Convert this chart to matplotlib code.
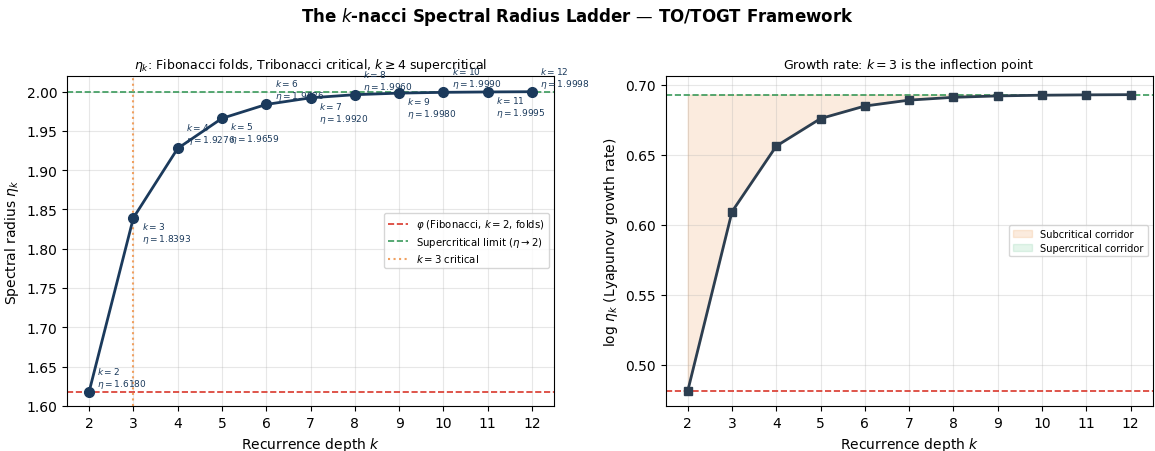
import numpy as np
from matplotlib import pyplot as plt

k = [2, 3, 4, 5, 6, 7, 8, 9, 10, 11, 12]
eta = [1.6180, 1.8393, 1.9276, 1.9659, 1.9836, 1.9920, 1.9960, 1.9980, 1.9990, 1.9995, 1.9998]
phi = 1.6180
limit = 2.0

k = np.array(k)
eta = np.array(eta)
log_eta = np.log(eta)
ln2 = np.log(limit)

navy = '#1b3a5c'
slate = '#2c3e50'
red = '#d9372b'
green = '#3a9a5b'
orange = '#f0a060'

fig, (ax1, ax2) = plt.subplots(1, 2, figsize=(11.55, 4.52), dpi=100)
fig.subplots_adjust(left=0.058, right=0.998, bottom=0.10, top=0.830, wspace=0.229)
fig.suptitle(r'The $k$-nacci Spectral Radius Ladder — TO/TOGT Framework', fontsize=12, fontweight='bold', y=0.987)

# left panel
ax1.plot(k, eta, '-o', color=navy, lw=2, ms=7, zorder=3)
ax1.axhline(phi, color=red, ls='--', lw=1.2, label=r'$\varphi$ (Fibonacci, $k=2$, folds)')
ax1.axhline(limit, color=green, ls='--', lw=1.2, label=r'Supercritical limit ($\eta\to2$)')
ax1.axvline(3, color=orange, ls=':', lw=1.5, label=r'$k=3$ critical')
for i, (kk, ee) in enumerate(zip(k, eta)):
    if i % 2 == 0:
        ax1.annotate(f'$k={kk}$\n$\\eta={ee:.4f}$', (kk, ee), xytext=(6, 1.5),
                     textcoords='offset points', fontsize=6.5, color=navy, va='bottom',
                     linespacing=1.1)
    else:
        ax1.annotate(f'$k={kk}$\n$\\eta={ee:.4f}$', (kk, ee), xytext=(6, -1.5),
                     textcoords='offset points', fontsize=6.5, color=navy, va='top',
                     linespacing=1.1)
ax1.set_xlim(1.5, 12.5)
ax1.set_ylim(1.60, 2.020)
ax1.set_xticks(k)
ax1.set_xlabel(r'Recurrence depth $k$', fontsize=10)
ax1.set_ylabel(r'Spectral radius $\eta_k$', fontsize=10)
ax1.set_title(r'$\eta_k$: Fibonacci folds, Tribonacci critical, $k\geq4$ supercritical', fontsize=9)
ax1.grid(True, alpha=0.3)
ax1.legend(loc='center right', fontsize=7.3, labelspacing=0.35)

# right panel
ax2.fill_between(k, log_eta, ln2, where=log_eta < ln2, color='#e67e22', alpha=0.15,
                 label='Subcritical corridor')
ax2.fill_between(k, log_eta, ln2, where=log_eta >= ln2, color='#27ae60', alpha=0.12,
                 label='Supercritical corridor')
ax2.plot(k, log_eta, '-s', color=slate, lw=2, ms=6, zorder=3)
ax2.axhline(np.log(phi), color=red, ls='--', lw=1.2)
ax2.axhline(ln2, color=green, ls='--', lw=1.2)
ax2.set_xlim(1.5, 12.5)
ax2.set_ylim(0.4705, 0.7065)
ax2.set_xticks(k)
ax2.set_xlabel(r'Recurrence depth $k$', fontsize=10)
ax2.set_ylabel(r'$\log\,\eta_k$ (Lyapunov growth rate)', fontsize=10)
ax2.set_title(r'Growth rate: $k=3$ is the inflection point', fontsize=9)
ax2.grid(True, alpha=0.3)
ax2.legend(loc='center right', fontsize=7.1, labelspacing=0.35)

plt.savefig('out.png', dpi=100)
